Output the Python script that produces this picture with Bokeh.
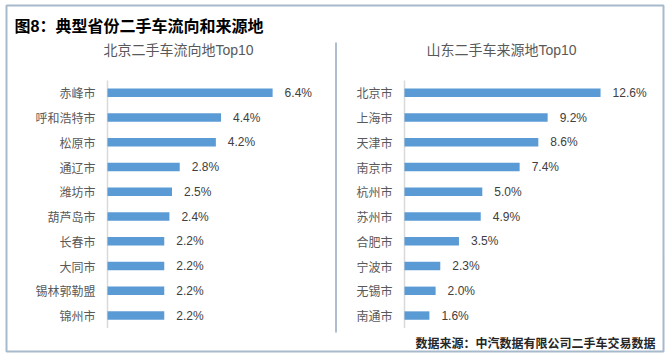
from bokeh.plotting import figure
from bokeh.models import Range1d
from bokeh.core.properties import value
from bokeh.embed import file_html
from bokeh.resources import INLINE

# ---- data ----
title_text = "图8：典型省份二手车流向和来源地"
left_title = "北京二手车流向地Top10"
right_title = "山东二手车来源地Top10"
source_text = "数据来源：中汽数据有限公司二手车交易数据"

left_cities = ["赤峰市", "呼和浩特市", "松原市", "通辽市", "潍坊市",
               "葫芦岛市", "长春市", "大同市", "锡林郭勒盟", "锦州市"]
left_values = [6.4, 4.4, 4.2, 2.8, 2.5, 2.4, 2.2, 2.2, 2.2, 2.2]

right_cities = ["北京市", "上海市", "天津市", "南京市", "杭州市",
                "苏州市", "合肥市", "宁波市", "无锡市", "南通市"]
right_values = [12.6, 9.2, 8.6, 7.4, 5.0, 4.9, 3.5, 2.3, 2.0, 1.6]

W, H = 670, 357
CJK = value("Noto Sans CJK SC")
MIX = value("Liberation Sans, Noto Sans CJK SC")
BAR = "#5b9bd5"


def pixel_range(origin_px, px_per_unit, length_px, flip=False):
    a = -origin_px / px_per_unit
    b = (length_px - origin_px) / px_per_unit
    return Range1d(b, a) if flip else Range1d(a, b)


p = figure(width=W, height=H, x_range=Range1d(0, W), y_range=Range1d(H, 0),
           x_axis_type=None, y_axis_type=None, output_backend="svg",
           toolbar_location=None, min_border=0)
p.grid.visible = False
p.outline_line_color = None
p.background_fill_color = "white"
p.border_fill_color = "white"

p.extra_x_ranges = {
    "lx": pixel_range(107, 25.8, W),
    "rx": pixel_range(404, 15.56, W),
}
p.extra_y_ranges = {"cy": pixel_range(92.3, 24.75, H, flip=True)}

# outer frame and separator
p.quad(left=6, right=663, top=5, bottom=351, fill_color=None,
       line_color="#a7bacb", line_width=2)
p.segment(x0=335.5, x1=335.5, y0=42, y1=332, line_color="#93a9c0", line_width=1.5)

# titles
p.text(x=[14], y=[26], text=[title_text], text_font=MIX, text_font_style="bold",
       text_font_size="16px", text_color="#000000", text_align="left",
       text_baseline="middle")
p.text(x=[178], y=[49], text=[left_title], text_font=MIX, text_font_size="14px",
       text_color="#595959", text_align="center", text_baseline="middle")
p.text(x=[501], y=[49], text=[right_title], text_font=MIX, text_font_size="14px",
       text_color="#595959", text_align="center", text_baseline="middle")
p.text(x=[655], y=[342], text=[source_text], text_font=CJK, text_font_style="bold",
       text_font_size="12px", text_color="#262626", text_align="right",
       text_baseline="middle")


def panel(cities, vals, xr):
    idx = list(range(len(cities)))
    p.segment(x0=0, x1=0, y0=-0.5, y1=len(cities) - 0.5, x_range_name=xr,
              y_range_name="cy", line_color="#d9d9d9", line_width=1.5)
    p.hbar(y=idx, left=0, right=vals, height=0.34, x_range_name=xr,
           y_range_name="cy", fill_color=BAR, line_color=None)
    p.text(x=[0] * len(cities), y=idx, text=cities, x_offset=-12,
           x_range_name=xr, y_range_name="cy", text_font=CJK,
           text_font_size="12px", text_color="#595959", text_align="right",
           text_baseline="middle")
    p.text(x=vals, y=idx, text=[f"{v:.1f}%" for v in vals], x_offset=12,
           x_range_name=xr, y_range_name="cy", text_font=value("Liberation Sans"),
           text_font_size="12px", text_color="#404040", text_align="left",
           text_baseline="middle")


panel(left_cities, left_values, "lx")
panel(right_cities, right_values, "rx")

open("out.html", "w").write(file_html(p, INLINE))
